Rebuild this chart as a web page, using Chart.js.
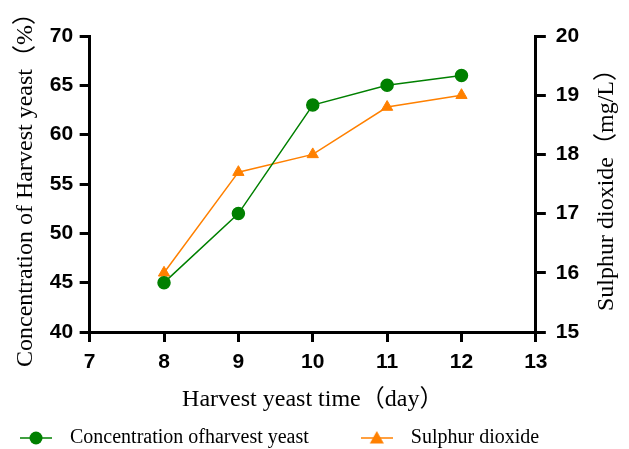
<!DOCTYPE html>
<html lang="en">
<head>
  <meta charset="UTF-8">
  <title>Harvest yeast</title>
  <script src="https://cdn.jsdelivr.net/npm/chart.js"></script>
  <style>
    html, body { margin: 0; padding: 0; background: #fff; }
    #wrap { width: 629px; height: 449px; }
  </style>
</head>
<body>
  <div id="wrap"><canvas id="yeastChart"></canvas></div>
  <script>
    // data
    const days = [8, 9, 10, 11, 12];
    const yeastConc = [45, 52, 63, 65, 66];               // %
    const sulphurDioxide = [16.0, 17.7, 18.0, 18.8, 19.0]; // mg/L
    const seriesNames = ['Concentration ofharvest yeast', 'Sulphur dioxide'];
    const axisTitles = {
      x: 'Harvest yeast time（day）',
      y: 'Concentration of Harvest yeast（%）',
      y1: 'Sulphur dioxide（mg/L）'
    };

    const green = '#008000';
    const orange = '#ff8000';
    const serif = '"Liberation Serif", "Noto Sans CJK SC", serif';
    const sans = '"Liberation Sans", Arial, sans-serif';

    // legend symbol: short line with the marker on it
    function legendIcon(color, shape) {
      const c = document.createElement('canvas');
      c.width = 32; c.height = 16;
      const g = c.getContext('2d');
      g.strokeStyle = color; g.fillStyle = color; g.lineWidth = 1.5;
      g.beginPath(); g.moveTo(0, 8); g.lineTo(32, 8); g.stroke();
      g.beginPath();
      if (shape === 'circle') {
        g.arc(16, 8, 6.5, 0, Math.PI * 2);
      } else {
        g.moveTo(16, 1); g.lineTo(23, 13.5); g.lineTo(9, 13.5); g.closePath();
      }
      g.fill();
      return c;
    }

    const axisGrid = { drawOnChartArea: false, drawTicks: true, tickLength: 10, lineWidth: 3, color: '#000' };
    const axisBorder = { display: true, width: 3, color: '#000' };
    const tickFont = { family: sans, size: 21, weight: 'bold' };
    const titleFont = { family: serif, size: 24 };

    const tweaks = {
      id: 'tweaks',
      afterLayout(chart) {
        // legend sits further left and lower than chart.js would put it
        const lg = chart.legend;
        lg.left -= 32; lg.right -= 32;
        lg.top -= 38;
      },
      // right axis title reads bottom-to-top like the left one
      afterDraw(chart) {
        const s = chart.scales.y1;
        const ctx = chart.ctx;
        ctx.save();
        ctx.font = `${titleFont.size}px ${titleFont.family}`;
        ctx.fillStyle = '#000';
        ctx.textAlign = 'center';
        ctx.textBaseline = 'middle';
        ctx.translate(s.right - 8 - titleFont.size * 0.6, (chart.chartArea.top + chart.chartArea.bottom) / 2);
        ctx.rotate(-Math.PI / 2);
        ctx.fillText(axisTitles.y1, 0, 0);
        ctx.restore();
      }
    };

    new Chart(document.getElementById('yeastChart'), {
      type: 'line',
      data: {
        datasets: [
          {
            label: seriesNames[0],
            data: yeastConc.map((v, i) => ({ x: days[i], y: v })),
            yAxisID: 'y',
            borderColor: green, backgroundColor: green,
            borderWidth: 1.5, pointStyle: 'circle', pointRadius: 6, pointBorderWidth: 1.5, pointHoverRadius: 6,
            legendIcon: legendIcon(green, 'circle')
          },
          {
            label: seriesNames[1],
            data: sulphurDioxide.map((v, i) => ({ x: days[i], y: v })),
            yAxisID: 'y1',
            borderColor: orange, backgroundColor: orange,
            borderWidth: 1.5, pointStyle: 'triangle', pointRadius: 6.5, pointBorderWidth: 1, pointHoverRadius: 6.5,
            legendIcon: legendIcon(orange, 'triangle')
          }
        ]
      },
      options: {
        responsive: true,
        maintainAspectRatio: false,
        animation: false,
        layout: { padding: { left: 0, right: 0, top: 36, bottom: 0 } },
        plugins: {
          tooltip: { enabled: false },
          legend: {
            position: 'bottom',
            align: 'start',
            maxHeight: 27,
            labels: {
              font: { family: serif, size: 20 },
              color: '#000',
              usePointStyle: true,
              pointStyleWidth: 48,
              padding: 44,
              generateLabels(chart) {
                return chart.data.datasets.map((ds, i) => ({
                  text: ds.label,
                  pointStyle: ds.legendIcon,
                  fillStyle: ds.backgroundColor,
                  strokeStyle: ds.borderColor,
                  fontColor: '#000',
                  lineWidth: 0,
                  hidden: false,
                  datasetIndex: i
                }));
              }
            }
          }
        },
        scales: {
          x: {
            type: 'linear', min: 7, max: 13,
            ticks: { stepSize: 1, font: tickFont, color: '#000', padding: 8 },
            grid: axisGrid, border: axisBorder,
            title: { display: true, text: axisTitles.x, font: titleFont, color: '#000', padding: { top: 2, bottom: 8 } }
          },
          y: {
            position: 'left', min: 40, max: 70,
            ticks: { stepSize: 5, font: tickFont, color: '#000', padding: 6.5 },
            grid: axisGrid, border: axisBorder,
            title: { display: true, text: axisTitles.y, font: titleFont, color: '#000', padding: { top: 11, bottom: 3.5 } }
          },
          y1: {
            position: 'right', min: 15, max: 20,
            ticks: { stepSize: 1, font: tickFont, color: '#000', padding: 10 },
            grid: axisGrid, border: axisBorder,
            // space is kept here, the text itself is drawn by the tweaks plugin
            title: { display: true, text: axisTitles.y1, font: titleFont, color: 'rgba(0,0,0,0)', padding: { top: 8, bottom: 3 } }
          }
        }
      },
      plugins: [tweaks]
    });
  </script>
</body>
</html>
